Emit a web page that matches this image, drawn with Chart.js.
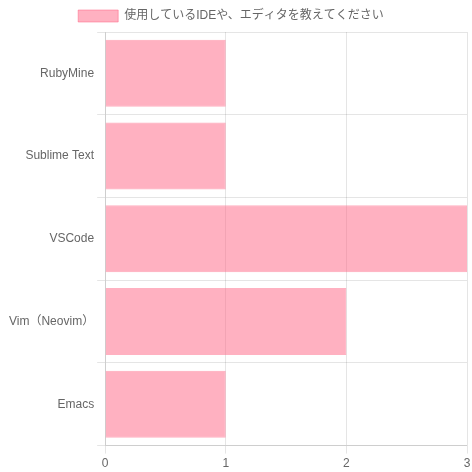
<!DOCTYPE html>
<html>
<head>
<meta charset="utf-8">
<script src="https://cdn.jsdelivr.net/npm/chart.js@4"></script>
<style>
  html, body { margin: 0; padding: 0; background: #fff; }
  #wrap { width: 472px; height: 472px; }
</style>
</head>
<body>
<div id="wrap"><canvas id="chart"></canvas></div>
<script>
// editors and answer counts
const editors = ['RubyMine', 'Sublime Text', 'VSCode', 'Vim（Neovim）', 'Emacs'];
const counts = [1, 1, 3, 2, 1];
const seriesLabel = '使用しているIDEや、エディタを教えてください';

Chart.defaults.font.family = '"Liberation Sans", Arial, "Noto Sans CJK JP", sans-serif';
Chart.defaults.font.size = 12;
Chart.defaults.color = '#666';

// nudge the legend a bit to the left, like the original
const legendShift = {
  id: 'legendShift',
  afterLayout(chart) {
    if (chart.legend) {
      chart.legend.left -= 8;
      chart.legend.right -= 8;
    }
  }
};

const ctx = document.getElementById('chart').getContext('2d');
const chart = new Chart(ctx, {
  type: 'bar',
  data: {
    labels: editors,
    datasets: [{
      label: seriesLabel,
      data: counts,
      backgroundColor: 'rgba(255, 99, 132, 0.5)',
      borderColor: 'rgba(255, 99, 132, 0.5)',
      borderWidth: 1,
      barPercentage: 0.9,
      categoryPercentage: 0.9
    }]
  },
  options: {
    indexAxis: 'y',
    responsive: true,
    maintainAspectRatio: false,
    animation: false,
    layout: { padding: { left: 6, bottom: -2 } },
    scales: {
      x: {
        beginAtZero: true,
        ticks: { stepSize: 1 },
        // the last tick label sits almost on the right edge
        afterFit: scale => { scale.paddingRight = 5; }
      }
    }
  },
  plugins: [legendShift]
});
</script>
</body>
</html>
